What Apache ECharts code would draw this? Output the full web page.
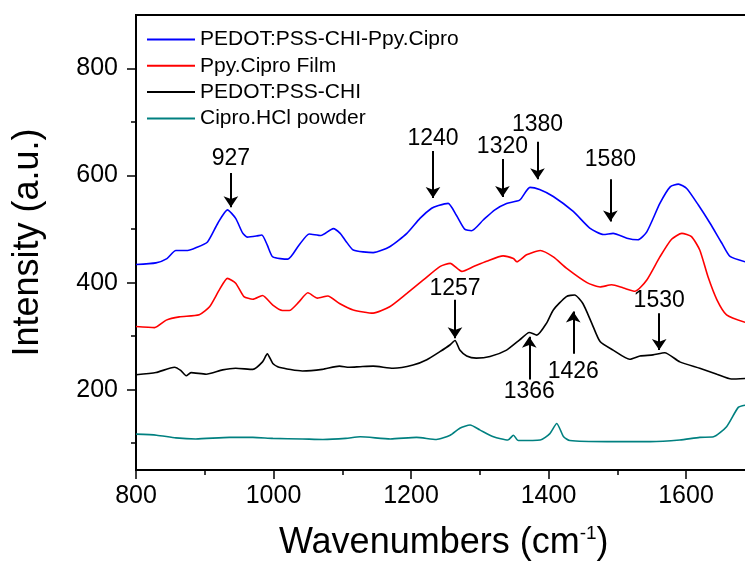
<!DOCTYPE html>
<html>
<head>
<meta charset="utf-8">
<script src="https://cdn.jsdelivr.net/npm/echarts@6/dist/echarts.min.js"></script>
<style>
html, body { margin: 0; padding: 0; background: #fff; }
#main { width: 745px; height: 564px; }
</style>
</head>
<body>
<div id="main"></div>
<script>
// spectra: [wavenumber, intensity]
var names = ['PEDOT:PSS-CHI-Ppy.Cipro', 'Ppy.Cipro Film', 'PEDOT:PSS-CHI', 'Cipro.HCl powder'];
var colors = ['#0000ff', '#ff0000', '#000000', '#008080'];

var blueData = [[800,434],[829,437],[845,445],[858,460],[875,460],[887,465],[904,476],[919,511],[933,536],[945,520],
    [955,493],[962,485],[975,487],[983,489],[991,470],[999,448],[1021,444],[1037,470],[1052,491],[1069,488],
    [1087,501],[1097,492],[1105,478],[1116,461],[1145,456],[1169,467],[1194,492],[1213,520],[1230,539],[1240,544],
    [1254,548],[1266,526],[1278,500],[1288,497],[1305,517],[1322,536],[1339,548],[1358,554],[1373,578],[1387,574],
    [1407,561],[1436,533],[1460,502],[1480,490],[1494,492],[1514,483],[1530,480],[1543,495],[1562,548],[1577,579],
    [1589,584],[1601,576],[1618,545],[1635,511],[1652,474],[1664,449],[1686,439]];

var redData = [[800,318],[827,316],[844,330],[863,336],[892,340],[907,355],[921,386],[933,408],[945,399],[957,374],
    [970,369],[984,376],[999,358],[1013,348],[1023,348],[1037,364],[1050,381],[1064,371],[1079,375],[1096,361],
    [1116,349],[1145,343],[1169,355],[1194,380],[1218,405],[1242,430],[1257,436],[1274,421],[1291,430],[1310,440],
    [1334,450],[1349,445],[1354,439],[1368,452],[1388,460],[1407,448],[1426,427],[1456,400],[1475,392],[1492,396],
    [1509,390],[1526,384],[1543,405],[1562,448],[1579,481],[1594,492],[1608,486],[1620,461],[1632,411],[1645,368],
    [1659,340],[1686,326]];

var blackData = [[800,228],[829,232],[856,242],[865,236],[873,226],[880,232],[902,229],[926,237],[945,240],[970,238],
    [984,252],[991,267],[999,249],[1008,242],[1042,235],[1071,238],[1096,244],[1110,242],[1126,243],[1145,244],
    [1174,240],[1203,246],[1223,256],[1242,271],[1257,284],[1264,292],[1271,274],[1281,263],[1295,259],[1315,262],
    [1339,274],[1358,293],[1372,307],[1383,302],[1397,324],[1407,349],[1426,374],[1438,377],[1450,361],[1463,324],
    [1475,290],[1494,274],[1518,257],[1533,263],[1552,265],[1569,269],[1591,252],[1620,240],[1645,229],[1666,220],
    [1686,221]];

var tealData = [[800,117],[830,115],[858,110],[887,108],[936,111],[970,111],[999,109],[1042,108],[1072,107],[1105,109],
    [1126,112],[1170,108],[1208,111],[1237,107],[1257,115],[1271,128],[1286,134],[1300,125],[1320,112],[1341,106],
    [1349,115],[1356,105],[1388,106],[1402,118],[1412,137],[1422,112],[1431,105],[1485,103],[1548,103],[1591,106],
    [1620,111],[1640,112],[1659,131],[1676,167],[1686,171]];

// peak arrows: label, x, tail y, tip y, label distance
var arrowLabels = ['927', '1240', '1320', '1380', '1580', '1257', '1366', '1426', '1530'];
var arrowX =      [938, 1232, 1333, 1384, 1490, 1264, 1372, 1436, 1561];
var arrowTail =   [605, 646, 631, 663, 593, 368, 219, 267, 343];
var arrowTip =    [541, 558, 560, 593, 514, 296, 299, 346, 274];
var arrowDist =   [3, 1, 1, 6, 8, 0, 1, 6, 1];

var majorY = [200, 400, 600, 800];
var minorY = [100, 300, 500, 700];

var arrowLines = arrowLabels.map(function (t, i) {
    return [
        { name: t, coord: [arrowX[i], arrowTail[i]], label: { distance: arrowDist[i] } },
        { coord: [arrowX[i], arrowTip[i]] }
    ];
});

var font = 'Liberation Sans, Arial, sans-serif';
var allData = [blueData, redData, blackData, tealData];

var series = allData.map(function (d, i) {
    return {
        name: names[i],
        type: 'line',
        data: d,
        showSymbol: false,
        smooth: 0.2,
        lineStyle: { color: colors[i], width: 1.6 },
        itemStyle: { color: colors[i] }
    };
});
series.push({
    type: 'line',
    data: [],
    markLine: {
        silent: true,
        symbol: ['none', 'arrow'],
        symbolSize: 11,
        lineStyle: { color: '#000', width: 2, type: 'solid' },
        label: {
            show: true,
            position: 'start',
            formatter: '{b}',
            color: '#000',
            fontSize: 23,
            fontFamily: font
        },
        data: arrowLines
    }
});

var plain = function (v) { return String(v); };

var option = {
    animation: false,
    textStyle: { fontFamily: font },
    grid: {
        left: 136, top: 15, width: 687.5, height: 455,
        outerBoundsMode: 'none',
        containLabel: false,
        show: true, borderColor: '#000', borderWidth: 2
    },
    legend: {
        data: names,
        orient: 'vertical',
        left: 147,
        top: 29,
        padding: 0,
        icon: 'rect',
        itemWidth: 48,
        itemHeight: 2,
        itemGap: 5.3,
        textStyle: { fontSize: 21, color: '#000', lineHeight: 21, fontFamily: font }
    },
    xAxis: {
        type: 'value',
        min: 800,
        max: 1800,
        interval: 200,
        name: '{a|Wavenumbers (cm}{s|-1}{a|)}',
        nameLocation: 'middle',
        nameGap: 54,
        nameTextStyle: {
            padding: [0, 72, 0, 0],
            rich: {
                a: { fontSize: 36, color: '#000', fontFamily: font, lineHeight: 38 },
                s: { fontSize: 19, color: '#000', fontFamily: font, verticalAlign: 'top', lineHeight: 38 }
            }
        },
        axisLine: { lineStyle: { color: '#000', width: 2 } },
        axisTick: { length: 9, lineStyle: { color: '#000', width: 1.5 } },
        minorTick: { show: true, splitNumber: 2, length: 5, lineStyle: { color: '#000', width: 1.5 } },
        axisLabel: { fontSize: 25, color: '#000', margin: 14, formatter: plain },
        splitLine: { show: false }
    },
    yAxis: [{
        type: 'value',
        min: 50,
        max: 900,
        name: 'Intensity (a.u.)',
        nameLocation: 'middle',
        nameGap: 90,
        nameTextStyle: { fontSize: 36, color: '#000' },
        axisLine: { show: true, lineStyle: { color: '#000', width: 2 } },
        axisTick: { show: true, length: 9, customValues: majorY, lineStyle: { color: '#000', width: 1.5 } },
        axisLabel: { fontSize: 25, color: '#000', margin: 18, customValues: majorY, formatter: plain },
        splitLine: { show: false }
    }, {
        type: 'value',
        min: 50,
        max: 900,
        position: 'left',
        axisLine: { show: false },
        axisTick: { show: true, length: 5, customValues: minorY, lineStyle: { color: '#000', width: 1.5 } },
        axisLabel: { show: false },
        splitLine: { show: false }
    }],
    series: series
};

var myChart = echarts.init(document.getElementById('main'));
myChart.setOption(option);
</script>
</body>
</html>
